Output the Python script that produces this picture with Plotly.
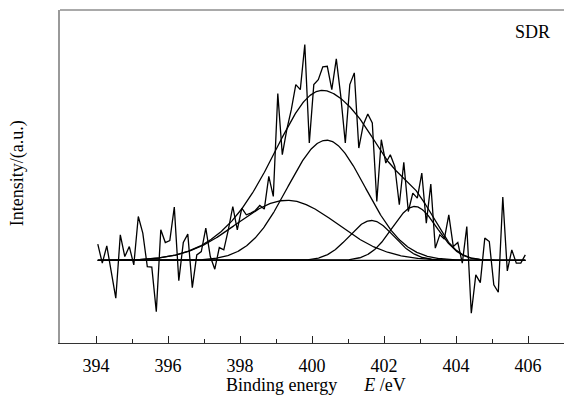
import numpy as np
import plotly.graph_objects as go

# ---- data ----
e_start = 394.05
e_step = 0.125
intensity = [
    16.2, -2.8, 14.5, -12.0, -37.8, 25.5, 3.8, 13.8, -4.5, 43.8,
    27.2, -6.2, -6.8, -51.2, 30.5, 17.8, 19.8, 53.2, -20.2, 17.8,
    26.2, -27.2, 5.5, 8.8, 32.2, 3.8, -8.8, 12.8, 10.5, 30.5,
    53.8, 30.5, 52.2, 45.5, 47.2, 49.8, 54.8, 51.2, 83.8, 63.8,
    166.5, 105.5, 130.5, 150.5, 175.5, 170.5, 215.5, 117.2, 175.5, 180.5,
    193.2, 193.8, 170.5, 201.2, 163.8, 117.2, 175.5, 187.2, 112.2, 135.5,
    146.2, 137.2, 58.8, 120.5, 97.2, 105.5, 93.8, 55.5, 97.8, 48.8,
    67.2, 62.2, 87.2, 37.2, 76.2, 12.2, 25.5, 21.2, 45.5, 13.8,
    17.8, -2.8, 33.8, -52.8, -14.5, -22.2, 22.2, 18.8, -24.5, -31.8,
    63.2, -10.5, 10.5, -2.8, -2.8, 5.5,
]
energy = [e_start + e_step * i for i in range(len(intensity))]

# fitted Gaussian components: centre (eV), height, sigma (eV)
comp_center = [399.3, 400.4, 401.65, 402.85]
comp_height = [60.0, 120.0, 39.8, 53.8]
comp_sigma = [1.40, 1.08, 0.62, 0.62]

x_ticks = [394, 396, 398, 400, 402, 404, 406]

# ---- figure ----
xf = np.linspace(energy[0], energy[-1], 600)
comps = [h * np.exp(-(xf - c) ** 2 / (2 * s ** 2))
         for c, h, s in zip(comp_center, comp_height, comp_sigma)]
envelope = np.sum(comps, axis=0)

line = dict(color="black", width=1.3)
fig = go.Figure()
fig.add_trace(go.Scatter(x=[energy[0], energy[-1]], y=[0, 0], mode="lines", line=line))
for c in comps:
    fig.add_trace(go.Scatter(x=xf, y=c, mode="lines", line=line))
fig.add_trace(go.Scatter(x=xf, y=envelope, mode="lines", line=line))
fig.add_trace(go.Scatter(x=energy, y=intensity, mode="lines", line=line))

font = dict(family="Liberation Serif, Times New Roman, serif", size=18, color="black")
fig.update_layout(
    width=564, height=403,
    margin=dict(l=60, r=0, t=10, b=60),
    plot_bgcolor="white", paper_bgcolor="white",
    showlegend=False, font=font,
    xaxis=dict(range=[393, 407], tickvals=x_ticks, ticks="inside", ticklen=7,
               tickcolor="#222", tickwidth=1, showgrid=False, zeroline=False,
               showline=True, linecolor="#333", linewidth=1,
               minor=dict(dtick=1, tick0=393, ticks="inside", ticklen=4, tickcolor="#222"),
               tickfont=font, ticklabelstandoff=6),
    yaxis=dict(range=[-82.5, 250], showticklabels=False, ticks="", showgrid=False,
               zeroline=False, showline=True, linecolor="#999", linewidth=1.5),
    shapes=[dict(type="line", xref="paper", yref="paper", x0=0, x1=1, y0=1, y1=1,
                 line=dict(color="#555", width=1))],
    annotations=[
        dict(text="SDR", xref="paper", yref="paper", x=0.938, y=0.934,
             showarrow=False, font=font, xanchor="center", yanchor="middle"),
        dict(text="Intensity/(a.u.)", xref="paper", yref="paper", x=-0.085, y=0.51,
             textangle=-90, showarrow=False, font=font, xanchor="center", yanchor="middle"),
        dict(text="Binding energy\u00a0\u00a0\u00a0\u00a0\u00a0\u00a0<i>E</i>\u00a0/eV",
             xref="paper", yref="paper", x=0.508, y=-0.126, showarrow=False, font=font,
             xanchor="center", yanchor="middle"),
    ],
)
fig.write_html("out.html")
